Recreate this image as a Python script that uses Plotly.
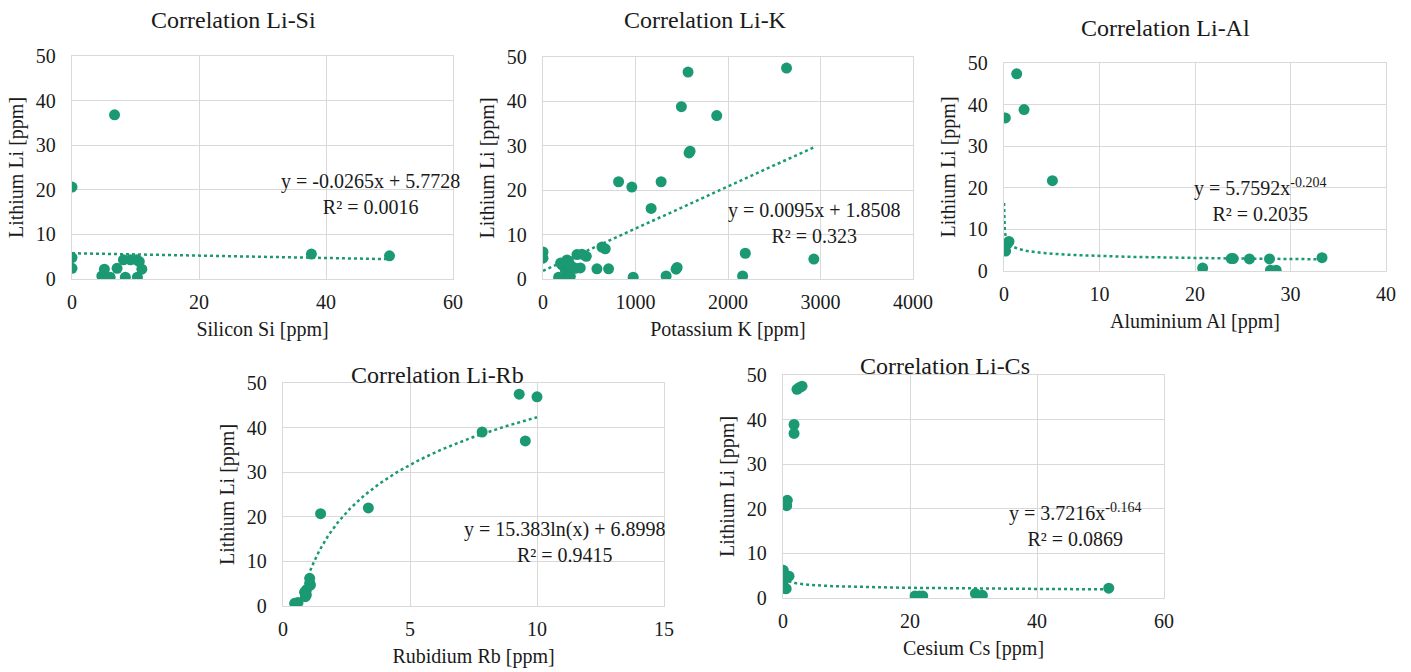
import numpy as np
import plotly.graph_objects as go

GREEN = "rgb(27,153,115)"
GRID = "#d9d9d9"
FONT = "Liberation Serif"
TXT = "#1a1a1a"

# ---------------- data ----------------
si_x = [0, 0, 0, 6.7, 4.7, 5.1, 6.0, 7.1, 8.1, 8.4, 9.2, 10.2, 10.3, 11.0, 10.6, 37.7, 50.0]
si_y = [20.6, 4.8, 2.4, 36.8, 0.7, 2.2, 0.4, 2.4, 4.3, 0.4, 4.3, 4.3, 0.4, 2.2, 3.9, 5.6, 5.2]

k_x = [0, 0, 817, 960, 1277, 1169, 1496, 1568, 1590, 1579, 1878, 2633, 2187, 2158, 2928,
       975, 1331, 1439, 1450, 583, 709, 637, 673, 367, 421, 468, 403, 331, 259, 205,
       169, 223, 295, 241, 277, 190, 310, 350]
k_y = [6.1, 4.7, 21.9, 20.7, 21.9, 15.9, 38.8, 46.6, 28.8, 28.4, 36.8, 47.5, 5.8, 0.7, 4.5,
       0.4, 0.7, 2.2, 2.6, 2.3, 2.3, 7.2, 6.8, 5.5, 5.6, 5.1, 2.5, 2.5, 4.3, 3.2,
       0.4, 0.4, 0.6, 2.1, 4.0, 3.6, 2.8, 2.4]

al_x = [1.33, 2.1, 0.14, 5.07, 0.52, 0.35, 0.07, 0.17, 0.006, 20.8, 23.8, 24.0, 25.7, 27.8, 27.9, 28.5, 33.3]
al_y = [47.4, 38.8, 36.8, 21.7, 7.1, 6.5, 5.6, 4.8, 5.6, 0.7, 3.0, 3.0, 2.9, 2.9, 0.2, 0.2, 3.2]

rb_x = [9.30, 10.0, 7.84, 9.54, 3.36, 1.48, 1.05, 1.05, 1.08, 0.92, 0.85, 0.92, 0.88, 0.59, 0.46, 0.53]
rb_y = [47.5, 46.9, 39.0, 37.0, 22.0, 20.7, 6.2, 5.1, 4.7, 3.6, 3.1, 2.5, 2.1, 0.8, 0.6, 0.4]

cs_x = [2.2, 2.6, 3.0, 1.74, 1.74, 0.68, 0.58, 0.05, 0.95, 0.16, 0.0, 0.26, 0.5,
        20.8, 21.5, 22.0, 30.3, 31.4, 51.3]
cs_y = [46.8, 47.2, 47.5, 38.9, 36.9, 21.9, 20.7, 6.2, 4.9, 4.0, 2.8, 2.2, 2.1,
        0.45, 0.45, 0.45, 1.0, 0.6, 2.2]

# trendline coefficients (as shown in the chart)
si_lin = (-0.0265, 5.7728)
k_lin = (0.0095, 1.8508)
al_pow = (5.7592, -0.204)
rb_log = (15.383, 6.8998)
cs_pow = (3.7216, -0.164)

titles = ["Correlation Li-Si", "Correlation Li-K", "Correlation Li-Al", "Correlation Li-Rb", "Correlation Li-Cs"]
xtitles = ["Silicon Si [ppm]", "Potassium K [ppm]", "Aluminium Al [ppm]", "Rubidium Rb [ppm]", "Cesium Cs [ppm]"]
eqs = ["y = -0.0265x + 5.7728<br>R² = 0.0016",
       "y = 0.0095x + 1.8508<br>R² = 0.323",
       "y = 5.7592x<sup>-0.204</sup><br>R² = 0.2035",
       "y = 15.383ln(x) + 6.8998<br>R² = 0.9415",
       "y = 3.7216x<sup>-0.164</sup><br>R² = 0.0869"]
xranges = [(0, 60, 20), (0, 4000, 1000), (0, 40, 10), (0, 15, 5), (0, 60, 20)]

W, H = 1411, 672
# plot areas in pixels: left, right, top, bottom
boxes = [(72, 453, 56, 279), (543, 913, 57, 279), (1004, 1386, 63, 271),
         (283, 664, 383, 606), (783, 1164, 375, 598)]
title_pos = [(233, 20), (705, 20), (1165, 28), (437, 375), (945, 366)]
eq_pos = [(370, 194), (814, 223), (1260, 200), (564, 542), (1075, 525)]

fig = go.Figure()

def curve_trend(i):
    if i == 0:
        xs = np.array([min(si_x), max(si_x)]); ys = si_lin[0] * xs + si_lin[1]
    elif i == 1:
        xs = np.array([min(k_x), max(k_x)]); ys = k_lin[0] * xs + k_lin[1]
    elif i == 2:
        xs = np.geomspace(min(al_x), max(al_x), 300); ys = al_pow[0] * xs ** al_pow[1]
    elif i == 3:
        xs = np.geomspace(min(rb_x), max(rb_x), 300); ys = rb_log[0] * np.log(xs) + rb_log[1]
    else:
        xs = np.geomspace(0.05, max(cs_x), 300); ys = cs_pow[0] * xs ** cs_pow[1]
    return xs, ys

datasets = [(si_x, si_y), (k_x, k_y), (al_x, al_y), (rb_x, rb_y), (cs_x, cs_y)]
annotations = []
for i, (dx, dy) in enumerate(datasets):
    ax = "" if i == 0 else str(i + 1)
    tx, ty = curve_trend(i)
    fig.add_trace(go.Scatter(x=tx, y=ty, mode="lines", xaxis="x" + ax, yaxis="y" + ax,
                             line=dict(color=GREEN, width=2.5, dash="dot"), showlegend=False,
                             hoverinfo="skip"))
    fig.add_trace(go.Scatter(x=dx, y=dy, mode="markers", xaxis="x" + ax, yaxis="y" + ax,
                             marker=dict(color=GREEN, size=11), showlegend=False))
    l, r, t, b = boxes[i]
    x0, x1, dt = xranges[i]
    axis_common = dict(showgrid=True, gridcolor=GRID, gridwidth=1.3, showline=True, linecolor=GRID,
                       linewidth=1.3, mirror=True, zeroline=False, ticks="", automargin=False,
                       tickfont=dict(family=FONT, size=20, color=TXT),
                       title_font=dict(family=FONT, size=20, color=TXT))
    fig.update_layout(**{
        "xaxis" + ax: dict(domain=[l / W, r / W], range=[x0, x1], dtick=dt, tick0=0,
                           anchor="y" + ax, ticklabelstandoff=5,
                           title=dict(text=xtitles[i], standoff=9), **axis_common),
        "yaxis" + ax: dict(domain=[1 - b / H, 1 - t / H], range=[0, 50], dtick=10, tick0=0,
                           anchor="x" + ax, ticklabelstandoff=11,
                           title=dict(text="Lithium Li [ppm]", standoff=6), **axis_common),
    })
    tx0, ty0 = title_pos[i]
    annotations.append(dict(text=titles[i], x=tx0 / W, y=1 - ty0 / H, xref="paper", yref="paper",
                            showarrow=False, xanchor="center", yanchor="middle",
                            font=dict(family=FONT, size=24, color=TXT)))
    ex, ey = eq_pos[i]
    annotations.append(dict(text=eqs[i], x=ex / W, y=1 - ey / H, xref="paper", yref="paper",
                            showarrow=False, xanchor="center", yanchor="middle", align="center",
                            font=dict(family=FONT, size=20, color=TXT)))

fig.update_layout(width=W, height=H, margin=dict(l=0, r=0, t=0, b=0, autoexpand=False),
                  paper_bgcolor="white", plot_bgcolor="white", annotations=annotations,
                  showlegend=False)
fig.write_html("out.html")
